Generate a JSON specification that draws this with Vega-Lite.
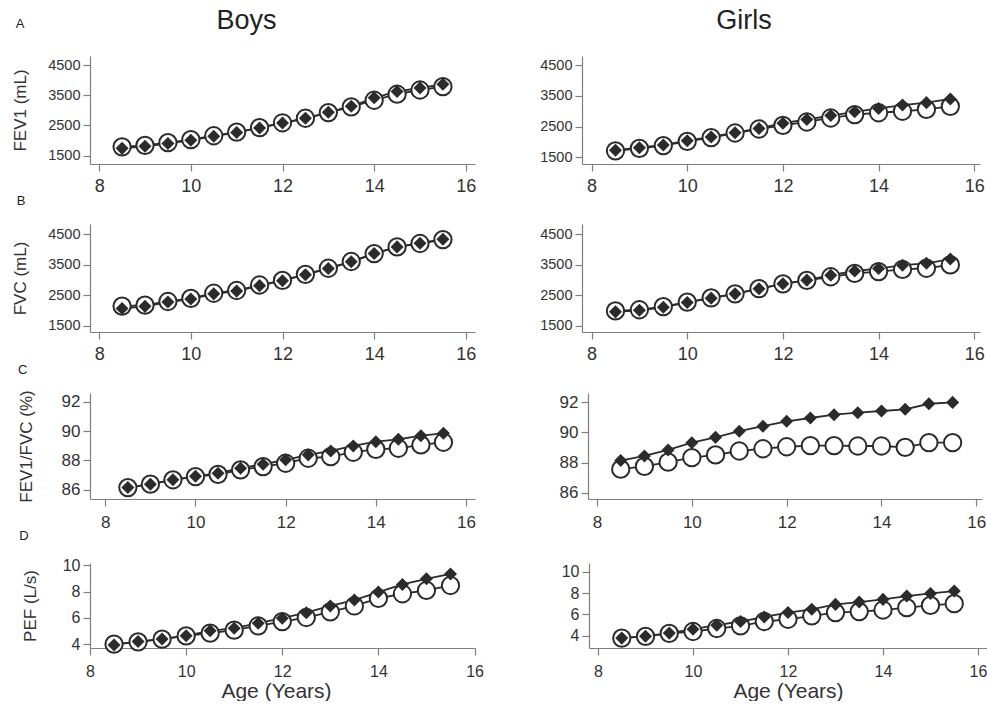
{
"$schema": "https://vega.github.io/schema/vega-lite/v6.json",
"padding": {"left": 11, "top": 7, "right": 0, "bottom": 0},
"background": "white",
"data": {"values": [
{"sex":"Boys","measure":"FEV1","age":8.5,"open":1790,"filled":1740},
{"sex":"Boys","measure":"FEV1","age":9,"open":1840,"filled":1810},
{"sex":"Boys","measure":"FEV1","age":9.5,"open":1930,"filled":1900},
{"sex":"Boys","measure":"FEV1","age":10,"open":2030,"filled":2010},
{"sex":"Boys","measure":"FEV1","age":10.5,"open":2160,"filled":2140},
{"sex":"Boys","measure":"FEV1","age":11,"open":2280,"filled":2270},
{"sex":"Boys","measure":"FEV1","age":11.5,"open":2430,"filled":2420},
{"sex":"Boys","measure":"FEV1","age":12,"open":2590,"filled":2580},
{"sex":"Boys","measure":"FEV1","age":12.5,"open":2740,"filled":2740},
{"sex":"Boys","measure":"FEV1","age":13,"open":2930,"filled":2940},
{"sex":"Boys","measure":"FEV1","age":13.5,"open":3120,"filled":3140},
{"sex":"Boys","measure":"FEV1","age":14,"open":3340,"filled":3420},
{"sex":"Boys","measure":"FEV1","age":14.5,"open":3540,"filled":3630},
{"sex":"Boys","measure":"FEV1","age":15,"open":3680,"filled":3750},
{"sex":"Boys","measure":"FEV1","age":15.5,"open":3790,"filled":3870},
{"sex":"Girls","measure":"FEV1","age":8.5,"open":1710,"filled":1730},
{"sex":"Girls","measure":"FEV1","age":9,"open":1790,"filled":1810},
{"sex":"Girls","measure":"FEV1","age":9.5,"open":1880,"filled":1900},
{"sex":"Girls","measure":"FEV1","age":10,"open":2020,"filled":2040},
{"sex":"Girls","measure":"FEV1","age":10.5,"open":2140,"filled":2160},
{"sex":"Girls","measure":"FEV1","age":11,"open":2290,"filled":2300},
{"sex":"Girls","measure":"FEV1","age":11.5,"open":2420,"filled":2440},
{"sex":"Girls","measure":"FEV1","age":12,"open":2540,"filled":2610},
{"sex":"Girls","measure":"FEV1","age":12.5,"open":2650,"filled":2730},
{"sex":"Girls","measure":"FEV1","age":13,"open":2780,"filled":2860},
{"sex":"Girls","measure":"FEV1","age":13.5,"open":2890,"filled":2980},
{"sex":"Girls","measure":"FEV1","age":14,"open":2950,"filled":3090},
{"sex":"Girls","measure":"FEV1","age":14.5,"open":3000,"filled":3200},
{"sex":"Girls","measure":"FEV1","age":15,"open":3060,"filled":3280},
{"sex":"Girls","measure":"FEV1","age":15.5,"open":3160,"filled":3400},
{"sex":"Boys","measure":"FVC","age":8.5,"open":2140,"filled":2060},
{"sex":"Boys","measure":"FVC","age":9,"open":2170,"filled":2130},
{"sex":"Boys","measure":"FVC","age":9.5,"open":2290,"filled":2270},
{"sex":"Boys","measure":"FVC","age":10,"open":2390,"filled":2370},
{"sex":"Boys","measure":"FVC","age":10.5,"open":2560,"filled":2540},
{"sex":"Boys","measure":"FVC","age":11,"open":2650,"filled":2630},
{"sex":"Boys","measure":"FVC","age":11.5,"open":2830,"filled":2810},
{"sex":"Boys","measure":"FVC","age":12,"open":2980,"filled":2970},
{"sex":"Boys","measure":"FVC","age":12.5,"open":3180,"filled":3170},
{"sex":"Boys","measure":"FVC","age":13,"open":3380,"filled":3370},
{"sex":"Boys","measure":"FVC","age":13.5,"open":3600,"filled":3590},
{"sex":"Boys","measure":"FVC","age":14,"open":3860,"filled":3860},
{"sex":"Boys","measure":"FVC","age":14.5,"open":4080,"filled":4080},
{"sex":"Boys","measure":"FVC","age":15,"open":4190,"filled":4200},
{"sex":"Boys","measure":"FVC","age":15.5,"open":4320,"filled":4330},
{"sex":"Girls","measure":"FVC","age":8.5,"open":1980,"filled":1950},
{"sex":"Girls","measure":"FVC","age":9,"open":2020,"filled":2000},
{"sex":"Girls","measure":"FVC","age":9.5,"open":2120,"filled":2100},
{"sex":"Girls","measure":"FVC","age":10,"open":2270,"filled":2260},
{"sex":"Girls","measure":"FVC","age":10.5,"open":2410,"filled":2400},
{"sex":"Girls","measure":"FVC","age":11,"open":2540,"filled":2540},
{"sex":"Girls","measure":"FVC","age":11.5,"open":2710,"filled":2710},
{"sex":"Girls","measure":"FVC","age":12,"open":2870,"filled":2870},
{"sex":"Girls","measure":"FVC","age":12.5,"open":2980,"filled":2990},
{"sex":"Girls","measure":"FVC","age":13,"open":3100,"filled":3150},
{"sex":"Girls","measure":"FVC","age":13.5,"open":3210,"filled":3290},
{"sex":"Girls","measure":"FVC","age":14,"open":3270,"filled":3370},
{"sex":"Girls","measure":"FVC","age":14.5,"open":3340,"filled":3480},
{"sex":"Girls","measure":"FVC","age":15,"open":3380,"filled":3540},
{"sex":"Girls","measure":"FVC","age":15.5,"open":3490,"filled":3680},
{"sex":"Boys","measure":"RATIO","age":8.5,"open":86.15,"filled":86.15},
{"sex":"Boys","measure":"RATIO","age":9,"open":86.38,"filled":86.38},
{"sex":"Boys","measure":"RATIO","age":9.5,"open":86.68,"filled":86.68},
{"sex":"Boys","measure":"RATIO","age":10,"open":86.9,"filled":86.92},
{"sex":"Boys","measure":"RATIO","age":10.5,"open":87.05,"filled":87.13},
{"sex":"Boys","measure":"RATIO","age":11,"open":87.36,"filled":87.47},
{"sex":"Boys","measure":"RATIO","age":11.5,"open":87.58,"filled":87.74},
{"sex":"Boys","measure":"RATIO","age":12,"open":87.81,"filled":88.04},
{"sex":"Boys","measure":"RATIO","age":12.5,"open":88.15,"filled":88.38},
{"sex":"Boys","measure":"RATIO","age":13,"open":88.26,"filled":88.65},
{"sex":"Boys","measure":"RATIO","age":13.5,"open":88.56,"filled":88.99},
{"sex":"Boys","measure":"RATIO","age":14,"open":88.76,"filled":89.28},
{"sex":"Boys","measure":"RATIO","age":14.5,"open":88.83,"filled":89.44},
{"sex":"Boys","measure":"RATIO","age":15,"open":89.06,"filled":89.69},
{"sex":"Boys","measure":"RATIO","age":15.5,"open":89.24,"filled":89.85},
{"sex":"Girls","measure":"RATIO","age":8.5,"open":87.57,"filled":88.14},
{"sex":"Girls","measure":"RATIO","age":9,"open":87.75,"filled":88.44},
{"sex":"Girls","measure":"RATIO","age":9.5,"open":88.03,"filled":88.84},
{"sex":"Girls","measure":"RATIO","age":10,"open":88.33,"filled":89.32},
{"sex":"Girls","measure":"RATIO","age":10.5,"open":88.51,"filled":89.67},
{"sex":"Girls","measure":"RATIO","age":11,"open":88.77,"filled":90.08},
{"sex":"Girls","measure":"RATIO","age":11.5,"open":88.92,"filled":90.41},
{"sex":"Girls","measure":"RATIO","age":12,"open":89.05,"filled":90.73},
{"sex":"Girls","measure":"RATIO","age":12.5,"open":89.12,"filled":90.95},
{"sex":"Girls","measure":"RATIO","age":13,"open":89.12,"filled":91.17},
{"sex":"Girls","measure":"RATIO","age":13.5,"open":89.1,"filled":91.3},
{"sex":"Girls","measure":"RATIO","age":14,"open":89.1,"filled":91.41},
{"sex":"Girls","measure":"RATIO","age":14.5,"open":89.01,"filled":91.52},
{"sex":"Girls","measure":"RATIO","age":15,"open":89.32,"filled":91.89},
{"sex":"Girls","measure":"RATIO","age":15.5,"open":89.32,"filled":91.98},
{"sex":"Boys","measure":"PEF","age":8.5,"open":3.99,"filled":3.93},
{"sex":"Boys","measure":"PEF","age":9,"open":4.17,"filled":4.19},
{"sex":"Boys","measure":"PEF","age":9.5,"open":4.37,"filled":4.39},
{"sex":"Boys","measure":"PEF","age":10,"open":4.62,"filled":4.64},
{"sex":"Boys","measure":"PEF","age":10.5,"open":4.83,"filled":5.01},
{"sex":"Boys","measure":"PEF","age":11,"open":5.06,"filled":5.21},
{"sex":"Boys","measure":"PEF","age":11.5,"open":5.39,"filled":5.59},
{"sex":"Boys","measure":"PEF","age":12,"open":5.71,"filled":5.97},
{"sex":"Boys","measure":"PEF","age":12.5,"open":6.02,"filled":6.39},
{"sex":"Boys","measure":"PEF","age":13,"open":6.45,"filled":6.9},
{"sex":"Boys","measure":"PEF","age":13.5,"open":6.9,"filled":7.35},
{"sex":"Boys","measure":"PEF","age":14,"open":7.48,"filled":7.96},
{"sex":"Boys","measure":"PEF","age":14.5,"open":7.83,"filled":8.54},
{"sex":"Boys","measure":"PEF","age":15,"open":8.08,"filled":8.97},
{"sex":"Boys","measure":"PEF","age":15.5,"open":8.46,"filled":9.34},
{"sex":"Girls","measure":"PEF","age":8.5,"open":3.78,"filled":3.78},
{"sex":"Girls","measure":"PEF","age":9,"open":3.94,"filled":3.96},
{"sex":"Girls","measure":"PEF","age":9.5,"open":4.22,"filled":4.25},
{"sex":"Girls","measure":"PEF","age":10,"open":4.4,"filled":4.62},
{"sex":"Girls","measure":"PEF","age":10.5,"open":4.68,"filled":5.0},
{"sex":"Girls","measure":"PEF","age":11,"open":4.93,"filled":5.34},
{"sex":"Girls","measure":"PEF","age":11.5,"open":5.34,"filled":5.77},
{"sex":"Girls","measure":"PEF","age":12,"open":5.55,"filled":6.18},
{"sex":"Girls","measure":"PEF","age":12.5,"open":5.87,"filled":6.49},
{"sex":"Girls","measure":"PEF","age":13,"open":6.18,"filled":6.95},
{"sex":"Girls","measure":"PEF","age":13.5,"open":6.27,"filled":7.17},
{"sex":"Girls","measure":"PEF","age":14,"open":6.42,"filled":7.42},
{"sex":"Girls","measure":"PEF","age":14.5,"open":6.64,"filled":7.73},
{"sex":"Girls","measure":"PEF","age":15,"open":6.86,"filled":7.98},
{"sex":"Girls","measure":"PEF","age":15.5,"open":7.02,"filled":8.2}
]},
"columns": 1,
"spacing": 0,
"concat": [
{
 "title": {"text": "A", "anchor": "start", "frame": "bounds", "fontSize": 13, "offset": -24, "dx": 4},
 "spacing": 63,
 "hconcat": [
  {
   "width": 385, "height": 108,
   "title": {"text": "Boys", "fontSize": 27, "anchor": "middle", "frame": "group", "dx": -36, "offset": 21},
   "transform": [{"filter": "datum.sex == 'Boys' && datum.measure == 'FEV1'"}, {"fold": ["open", "filled"], "as": ["group", "value"]}],
   "encoding": {
    "x": {"field": "age", "type": "quantitative", "scale": {"domain": [7.8, 16.2], "nice": false, "zero": false}, "axis": {"title": null, "values": [8, 10, 12, 14, 16], "labelFontSize": 18, "labelPadding": 6}},
    "y": {"field": "value", "type": "quantitative", "scale": {"domain": [1220, 4810], "nice": false, "zero": false}, "axis": {"title": "FEV1 (mL)", "values": [1500, 2500, 3500, 4500], "format": "d", "labelFontSize": 14.5, "titleFontSize": 17, "titlePadding": 18}}
   },
   "layer": [
    {"mark": {"type": "line", "color": "#2b2b2b", "strokeWidth": 1.8}, "encoding": {"detail": {"field": "group"}}},
    {"transform": [{"filter": "datum.group == 'open'"}], "mark": {"type": "point", "shape": "circle", "size": 300, "filled": true, "fill": "white", "stroke": "#2b2b2b", "strokeWidth": 2, "opacity": 1}},
    {"transform": [{"filter": "datum.group == 'filled'"}], "mark": {"type": "point", "shape": "diamond", "size": 170, "filled": true, "color": "#2b2b2b", "opacity": 1}}
   ]
  },
  {
   "width": 398, "height": 108,
   "title": {"text": "Girls", "fontSize": 27, "anchor": "middle", "frame": "group", "dx": -37, "offset": 21},
   "transform": [{"filter": "datum.sex == 'Girls' && datum.measure == 'FEV1'"}, {"fold": ["open", "filled"], "as": ["group", "value"]}],
   "encoding": {
    "x": {"field": "age", "type": "quantitative", "scale": {"domain": [7.8, 16.12], "nice": false, "zero": false}, "axis": {"title": null, "values": [8, 10, 12, 14, 16], "labelFontSize": 18, "labelPadding": 6}},
    "y": {"field": "value", "type": "quantitative", "scale": {"domain": [1280, 4800], "nice": false, "zero": false}, "axis": {"title": null, "values": [1500, 2500, 3500, 4500], "format": "d", "labelFontSize": 14.5}}
   },
   "layer": [
    {"mark": {"type": "line", "color": "#2b2b2b", "strokeWidth": 1.8}, "encoding": {"detail": {"field": "group"}}},
    {"transform": [{"filter": "datum.group == 'open'"}], "mark": {"type": "point", "shape": "circle", "size": 300, "filled": true, "fill": "white", "stroke": "#2b2b2b", "strokeWidth": 2, "opacity": 1}},
    {"transform": [{"filter": "datum.group == 'filled'"}], "mark": {"type": "point", "shape": "diamond", "size": 170, "filled": true, "color": "#2b2b2b", "opacity": 1}}
   ]
  }
 ]
},
{
 "title": {"text": "B", "anchor": "start", "frame": "bounds", "fontSize": 13, "offset": 16, "dx": 5},
 "spacing": 63,
 "hconcat": [
  {
   "width": 385, "height": 108,
   "transform": [{"filter": "datum.sex == 'Boys' && datum.measure == 'FVC'"}, {"fold": ["open", "filled"], "as": ["group", "value"]}],
   "encoding": {
    "x": {"field": "age", "type": "quantitative", "scale": {"domain": [7.8, 16.2], "nice": false, "zero": false}, "axis": {"title": null, "values": [8, 10, 12, 14, 16], "labelFontSize": 18, "labelPadding": 6}},
    "y": {"field": "value", "type": "quantitative", "scale": {"domain": [1290, 4830], "nice": false, "zero": false}, "axis": {"title": "FVC (mL)", "values": [1500, 2500, 3500, 4500], "format": "d", "labelFontSize": 14.5, "titleFontSize": 17, "titlePadding": 18}}
   },
   "layer": [
    {"mark": {"type": "line", "color": "#2b2b2b", "strokeWidth": 1.8}, "encoding": {"detail": {"field": "group"}}},
    {"transform": [{"filter": "datum.group == 'open'"}], "mark": {"type": "point", "shape": "circle", "size": 300, "filled": true, "fill": "white", "stroke": "#2b2b2b", "strokeWidth": 2, "opacity": 1}},
    {"transform": [{"filter": "datum.group == 'filled'"}], "mark": {"type": "point", "shape": "diamond", "size": 170, "filled": true, "color": "#2b2b2b", "opacity": 1}}
   ]
  },
  {
   "width": 398, "height": 108,
   "transform": [{"filter": "datum.sex == 'Girls' && datum.measure == 'FVC'"}, {"fold": ["open", "filled"], "as": ["group", "value"]}],
   "encoding": {
    "x": {"field": "age", "type": "quantitative", "scale": {"domain": [7.8, 16.12], "nice": false, "zero": false}, "axis": {"title": null, "values": [8, 10, 12, 14, 16], "labelFontSize": 18, "labelPadding": 6}},
    "y": {"field": "value", "type": "quantitative", "scale": {"domain": [1290, 4830], "nice": false, "zero": false}, "axis": {"title": null, "values": [1500, 2500, 3500, 4500], "format": "d", "labelFontSize": 14.5}}
   },
   "layer": [
    {"mark": {"type": "line", "color": "#2b2b2b", "strokeWidth": 1.8}, "encoding": {"detail": {"field": "group"}}},
    {"transform": [{"filter": "datum.group == 'open'"}], "mark": {"type": "point", "shape": "circle", "size": 300, "filled": true, "fill": "white", "stroke": "#2b2b2b", "strokeWidth": 2, "opacity": 1}},
    {"transform": [{"filter": "datum.group == 'filled'"}], "mark": {"type": "point", "shape": "diamond", "size": 170, "filled": true, "color": "#2b2b2b", "opacity": 1}}
   ]
  }
 ]
},
{
 "title": {"text": "C", "anchor": "start", "frame": "bounds", "fontSize": 13, "offset": 13, "dx": 1},
 "spacing": 83,
 "hconcat": [
  {
   "width": 385, "height": 106,
   "transform": [{"filter": "datum.sex == 'Boys' && datum.measure == 'RATIO'"}, {"fold": ["open", "filled"], "as": ["group", "value"]}],
   "encoding": {
    "x": {"field": "age", "type": "quantitative", "scale": {"domain": [7.66, 16.2], "nice": false, "zero": false}, "axis": {"title": null, "values": [8, 10, 12, 14, 16], "labelFontSize": 17, "labelPadding": 8}},
    "y": {"field": "value", "type": "quantitative", "scale": {"domain": [85.37, 92.6], "nice": false, "zero": false}, "axis": {"title": "FEV1/FVC (%)", "values": [86, 88, 90, 92], "labelFontSize": 17, "titleFontSize": 17, "titlePadding": 26}}
   },
   "layer": [
    {"mark": {"type": "line", "color": "#2b2b2b", "strokeWidth": 1.8}, "encoding": {"detail": {"field": "group"}}},
    {"transform": [{"filter": "datum.group == 'open'"}], "mark": {"type": "point", "shape": "circle", "size": 300, "filled": true, "fill": "white", "stroke": "#2b2b2b", "strokeWidth": 2, "opacity": 1}},
    {"transform": [{"filter": "datum.group == 'filled'"}], "mark": {"type": "point", "shape": "diamond", "size": 170, "filled": true, "color": "#2b2b2b", "opacity": 1}}
   ]
  },
  {
   "width": 394, "height": 106,
   "transform": [{"filter": "datum.sex == 'Girls' && datum.measure == 'RATIO'"}, {"fold": ["open", "filled"], "as": ["group", "value"]}],
   "encoding": {
    "x": {"field": "age", "type": "quantitative", "scale": {"domain": [7.81, 16.12], "nice": false, "zero": false}, "axis": {"title": null, "values": [8, 10, 12, 14, 16], "labelFontSize": 17, "labelPadding": 8}},
    "y": {"field": "value", "type": "quantitative", "scale": {"domain": [85.6, 92.6], "nice": false, "zero": false}, "axis": {"title": null, "values": [86, 88, 90, 92], "labelFontSize": 17}}
   },
   "layer": [
    {"mark": {"type": "line", "color": "#2b2b2b", "strokeWidth": 1.8}, "encoding": {"detail": {"field": "group"}}},
    {"transform": [{"filter": "datum.group == 'open'"}], "mark": {"type": "point", "shape": "circle", "size": 300, "filled": true, "fill": "white", "stroke": "#2b2b2b", "strokeWidth": 2, "opacity": 1}},
    {"transform": [{"filter": "datum.group == 'filled'"}], "mark": {"type": "point", "shape": "diamond", "size": 170, "filled": true, "color": "#2b2b2b", "opacity": 1}}
   ]
  }
 ]
},
{
 "title": {"text": "D", "anchor": "start", "frame": "bounds", "fontSize": 13, "offset": 14, "dx": -2},
 "spacing": 77,
 "hconcat": [
  {
   "width": 385, "height": 85,
   "transform": [{"filter": "datum.sex == 'Boys' && datum.measure == 'PEF'"}, {"fold": ["open", "filled"], "as": ["group", "value"]}],
   "encoding": {
    "x": {"field": "age", "type": "quantitative", "scale": {"domain": [8, 16.01], "nice": false, "zero": false}, "axis": {"title": "Age (Years)", "values": [8, 10, 12, 14, 16], "labelFontSize": 16, "labelPadding": 8, "titleFontSize": 21, "titlePadding": 1, "titleX": 186}},
    "y": {"field": "value", "type": "quantitative", "scale": {"domain": [3.7, 10.17], "nice": false, "zero": false}, "axis": {"title": "PEF (L/s)", "values": [4, 6, 8, 10], "labelFontSize": 16, "titleFontSize": 17, "titlePadding": 23}}
   },
   "layer": [
    {"mark": {"type": "line", "color": "#2b2b2b", "strokeWidth": 1.8}, "encoding": {"detail": {"field": "group"}}},
    {"transform": [{"filter": "datum.group == 'open'"}], "mark": {"type": "point", "shape": "circle", "size": 300, "filled": true, "fill": "white", "stroke": "#2b2b2b", "strokeWidth": 2, "opacity": 1}},
    {"transform": [{"filter": "datum.group == 'filled'"}], "mark": {"type": "point", "shape": "diamond", "size": 170, "filled": true, "color": "#2b2b2b", "opacity": 1}}
   ]
  },
  {
   "width": 398, "height": 85,
   "transform": [{"filter": "datum.sex == 'Girls' && datum.measure == 'PEF'"}, {"fold": ["open", "filled"], "as": ["group", "value"]}],
   "encoding": {
    "x": {"field": "age", "type": "quantitative", "scale": {"domain": [7.81, 16.19], "nice": false, "zero": false}, "axis": {"title": "Age (Years)", "values": [8, 10, 12, 14, 16], "labelFontSize": 16, "labelPadding": 8, "titleFontSize": 21, "titlePadding": 1}},
    "y": {"field": "value", "type": "quantitative", "scale": {"domain": [2.85, 10.84], "nice": false, "zero": false}, "axis": {"title": null, "values": [4, 6, 8, 10], "labelFontSize": 16}}
   },
   "layer": [
    {"mark": {"type": "line", "color": "#2b2b2b", "strokeWidth": 1.8}, "encoding": {"detail": {"field": "group"}}},
    {"transform": [{"filter": "datum.group == 'open'"}], "mark": {"type": "point", "shape": "circle", "size": 300, "filled": true, "fill": "white", "stroke": "#2b2b2b", "strokeWidth": 2, "opacity": 1}},
    {"transform": [{"filter": "datum.group == 'filled'"}], "mark": {"type": "point", "shape": "diamond", "size": 170, "filled": true, "color": "#2b2b2b", "opacity": 1}}
   ]
  }
 ]
}
],
"config": {
 "view": {"stroke": null},
 "font": "Liberation Sans",
 "title": {"font": "Liberation Sans", "fontWeight": "normal", "color": "#222222"},
 "axis": {"grid": false, "domainColor": "#7f7f7f", "tickColor": "#7f7f7f", "tickSize": 7, "domainWidth": 1.2, "tickWidth": 1.2, "labelColor": "#333333", "titleColor": "#333333", "labelFont": "Liberation Sans", "titleFont": "Liberation Sans", "titleFontWeight": "normal", "labelPadding": 3, "labelFlush": false, "labelOverlap": false}
}
}
